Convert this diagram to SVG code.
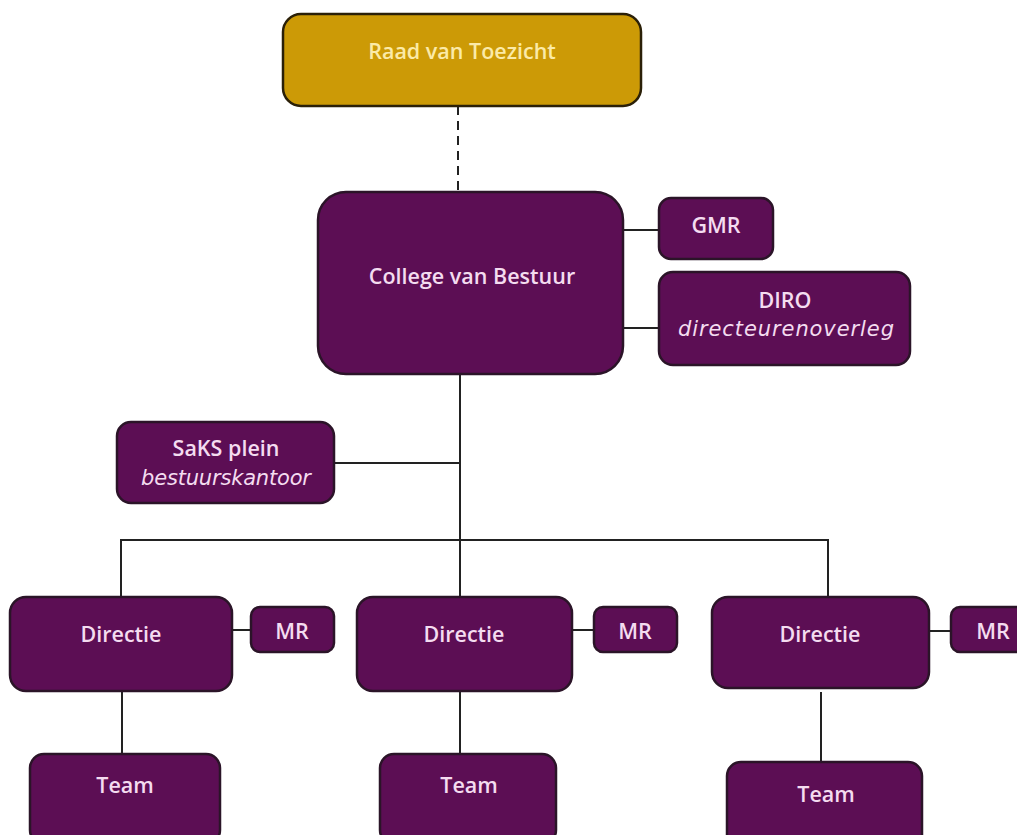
<svg xmlns="http://www.w3.org/2000/svg" width="1017" height="835" viewBox="0 0 1017 835">
<style>
.box{fill:#5c0e54;stroke:#2b1428;stroke-width:2.5}
.gold{fill:#cc9a06;stroke:#2b2008;stroke-width:2.5}
.t{font-family:"Open Sans","Liberation Sans",sans-serif;font-size:21.5px;font-weight:600;fill:#f4dcf0;text-anchor:middle}
.ty{fill:#fbeaa8}
.i{font-family:"DejaVu Sans","Open Sans",sans-serif;font-style:italic;font-weight:400;font-size:21px}
.c{stroke:#222;stroke-width:2;fill:none}
</style>
<rect width="1017" height="835" fill="#fff"/>
<g id="connectors">
<line class="c" x1="458" y1="106" x2="458" y2="192" stroke-dasharray="9,6" stroke-width="2.5"/>
<line class="c" x1="623" y1="230" x2="659" y2="230"/>
<line class="c" x1="623" y1="328" x2="659" y2="328"/>
<line class="c" x1="460" y1="374" x2="460" y2="597"/>
<line class="c" x1="334" y1="463" x2="460" y2="463"/>
<polyline class="c" points="121,597 121,540 828,540 828,597"/>
<line class="c" x1="232" y1="630" x2="251" y2="630"/>
<line class="c" x1="572" y1="630" x2="594" y2="630"/>
<line class="c" x1="929" y1="631" x2="951" y2="631"/>
<line class="c" x1="122" y1="691" x2="122" y2="754"/>
<line class="c" x1="460" y1="691" x2="460" y2="754"/>
<line class="c" x1="821" y1="692" x2="821" y2="762"/>
</g>
<g id="raad"><rect class="gold" x="283" y="14" width="358" height="92" rx="18"/><text class="t ty" x="462" y="59">Raad van Toezicht</text></g>
<g id="college"><rect class="box" x="318" y="192" width="305" height="182" rx="28"/><text class="t" x="472" y="284">College van Bestuur</text></g>
<g id="gmr"><rect class="box" x="659" y="198" width="114" height="61" rx="12"/><text class="t" x="716" y="233">GMR</text></g>
<g id="diro"><rect class="box" x="659" y="272" width="251" height="93" rx="14"/><text class="t" x="785" y="308">DIRO</text><text class="t i" x="786" y="336" textLength="216" lengthAdjust="spacing">directeurenoverleg</text></g>
<g id="saks"><rect class="box" x="117" y="422" width="217" height="81" rx="14"/><text class="t" x="226" y="456">SaKS plein</text><text class="t i" x="226" y="485" textLength="170" lengthAdjust="spacing">bestuurskantoor</text></g>
<g id="directie1"><rect class="box" x="10" y="597" width="222" height="94" rx="16"/><text class="t" x="121" y="642">Directie</text></g>
<g id="mr1"><rect class="box" x="251" y="607" width="83" height="45" rx="9"/><text class="t" x="292" y="639">MR</text></g>
<g id="directie2"><rect class="box" x="357" y="597" width="215" height="94" rx="16"/><text class="t" x="464" y="642">Directie</text></g>
<g id="mr2"><rect class="box" x="594" y="607" width="83" height="45" rx="9"/><text class="t" x="635" y="639">MR</text></g>
<g id="directie3"><rect class="box" x="712" y="597" width="217" height="91" rx="16"/><text class="t" x="820" y="642">Directie</text></g>
<g id="mr3"><rect class="box" x="951" y="607" width="80" height="45" rx="9"/><text class="t" x="993" y="639">MR</text></g>
<g id="team1"><rect class="box" x="30" y="754" width="190" height="90" rx="14"/><text class="t" x="125" y="793">Team</text></g>
<g id="team2"><rect class="box" x="380" y="754" width="176" height="90" rx="14"/><text class="t" x="469" y="793">Team</text></g>
<g id="team3"><rect class="box" x="727" y="762" width="195" height="90" rx="14"/><text class="t" x="826" y="802">Team</text></g>
</svg>
